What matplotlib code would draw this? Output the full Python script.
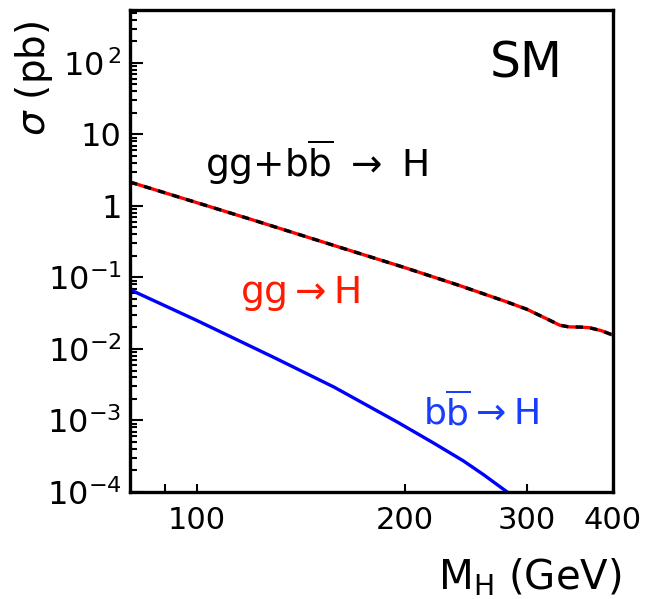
import numpy as np
import matplotlib
matplotlib.use('Agg')
import matplotlib.pyplot as plt
from matplotlib.ticker import FixedLocator, FixedFormatter, LogLocator, NullFormatter

plt.rcParams['font.family'] = ['DejaVu Sans']
plt.rcParams['mathtext.fontset'] = 'dejavusans'

# gg -> H (same curve as gg + bb -> H at this scale)
mh_gg = [80, 120, 160, 200, 240, 280, 300, 320, 335, 345, 360, 370, 385, 400]
xs_gg = [2.16, 0.645, 0.269, 0.137, 0.077, 0.046, 0.036, 0.0267, 0.0215, 0.0204, 0.0202, 0.0198, 0.0180, 0.0156]

# bb -> H
mh_bb = [80, 100, 130, 158, 195, 220, 243, 260, 276, 293]
xs_bb = [0.0676, 0.025, 0.0074, 0.00292, 9.5e-4, 4.84e-4, 2.72e-4, 1.74e-4, 1.14e-4, 7.5e-5]

xticks = [90, 100, 200, 300, 400]
xticklabels = ['', '100', '200', '300', '400']
yticks = [1e-4, 1e-3, 1e-2, 1e-1, 1, 10, 100]
yticklabels = [r'$10^{-4}$', r'$10^{-3}$', r'$10^{-2}$', r'$10^{-1}$', '1', '10', r'$10^{\,2}$']

W, H = 649, 599
fig = plt.figure(figsize=(W / 100, H / 100), dpi=100)
L, R, T, B = 130, 613, 10, 492
ax = fig.add_axes([L / W, (H - B) / H, (R - L) / W, (B - T) / H])

ax.plot(mh_bb, xs_bb, color='#0000ff', lw=2.4)
ax.plot(mh_gg, xs_gg, color='#ff0000', lw=2.4)
ax.plot(mh_gg, xs_gg, color='black', lw=2.4, dashes=(2.2, 2.2))

ax.set_xscale('log')
ax.set_yscale('log')
ax.set_xlim(80, 400)
ax.set_ylim(1e-4, 550)

ax.xaxis.set_major_locator(FixedLocator(xticks))
ax.xaxis.set_major_formatter(FixedFormatter(xticklabels))
ax.xaxis.set_minor_locator(FixedLocator([]))
ax.yaxis.set_major_locator(FixedLocator(yticks))
ax.yaxis.set_major_formatter(FixedFormatter(yticklabels))
ax.yaxis.set_minor_locator(LogLocator(base=10, subs=np.arange(2, 10), numticks=20))
ax.yaxis.set_minor_formatter(NullFormatter())

ax.tick_params(axis='both', which='both', direction='in', top=False, right=False,
               width=1.5, labelsize=23)
ax.tick_params(axis='y', which='major', length=9, pad=6)
ax.tick_params(axis='y', which='minor', length=5)
ax.tick_params(axis='x', which='major', length=6, pad=10, labelsize=22)
for s in ax.spines.values():
    s.set_linewidth(2.4)


def fx(px):
    return (px - L) / (R - L)


def fy(py):
    return (B - py) / (B - T)


ax.text(fx(490), fy(78), 'SM', fontsize=35, color='black', ha='left', va='baseline',
        transform=ax.transAxes)
ax.text(fx(205), fy(177), r'gg+b$\overline{\mathrm{b}}$ $\rightarrow$ H', fontsize=27,
        color='black', ha='left', va='baseline', transform=ax.transAxes)
ax.text(fx(240), fy(303), r'gg$\rightarrow$H', fontsize=27, color='#ff1a00',
        ha='left', va='baseline', transform=ax.transAxes)
ax.text(fx(423), fy(425), r'b$\overline{\mathrm{b}}$$\rightarrow$H', fontsize=26, color='#1a3cff',
        ha='left', va='baseline', transform=ax.transAxes)

fig.text(34 / W, 1 - 78 / H, r'$\sigma$ (pb)', rotation=90, fontsize=28,
         ha='center', va='center')
fig.text(530 / W, 1 - 578 / H, r'M$_\mathrm{H}$ (GeV)', fontsize=29,
         ha='center', va='center')

fig.savefig('out.png', dpi=100)
